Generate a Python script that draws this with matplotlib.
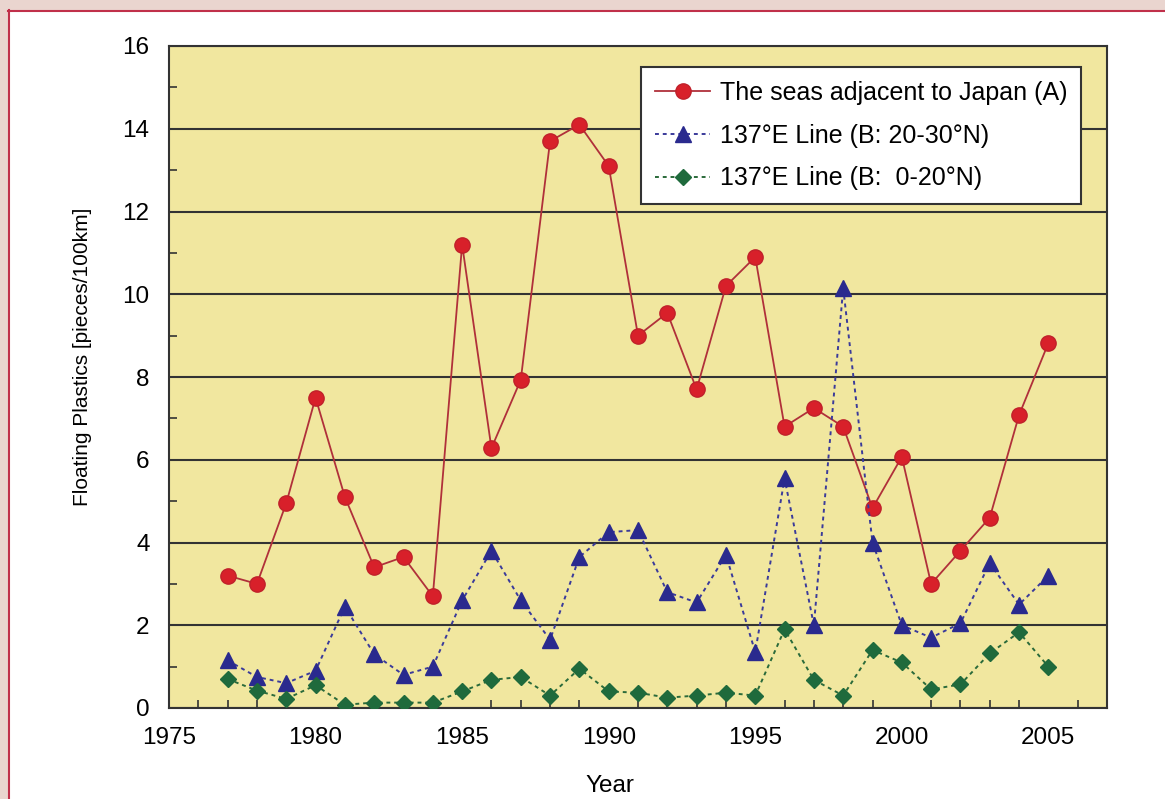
import matplotlib.pyplot as plt
from matplotlib.ticker import MultipleLocator
import matplotlib.patches as mpatches
import matplotlib.lines as mlines

plt.rcParams['font.family'] = ['Liberation Sans', 'DejaVu Sans']

years = list(range(1977, 2006))

# The seas adjacent to Japan (A)
japan = [3.2, 3.0, 4.95, 7.5, 5.1, 3.4, 3.65, 2.7, 11.2, 6.28,
         7.93, 13.7, 14.1, 13.1, 9.0, 9.55, 7.7, 10.2, 10.9, 6.8,
         7.25, 6.8, 4.83, 6.07, 3.0, 3.8, 4.6, 7.08, 8.82]

# 137E line, 20-30N
b_north = [1.15, 0.75, 0.6, 0.9, 2.45, 1.3, 0.8, 1.0, 2.6, 3.8,
           2.6, 1.65, 3.65, 4.25, 4.3, 2.8, 2.55, 3.7, 1.35, 5.55,
           2.0, 10.15, 4.0, 2.0, 1.7, 2.05, 3.5, 2.5, 3.2]

# 137E line, 0-20N
b_south = [0.7, 0.42, 0.22, 0.55, 0.08, 0.13, 0.13, 0.13, 0.4, 0.68,
           0.75, 0.3, 0.95, 0.4, 0.37, 0.25, 0.3, 0.37, 0.3, 1.9,
           0.68, 0.3, 1.4, 1.1, 0.45, 0.57, 1.32, 1.83, 1.0]

labels = ['The seas adjacent to Japan (A)',
          '137\u00b0E Line (B: 20-30\u00b0N)',
          '137\u00b0E Line (B:  0-20\u00b0N)']

fig = plt.figure(figsize=(11.65, 7.99), dpi=100, facecolor='white')

# pink frame at top and left
fig.patches.append(mpatches.Rectangle((0, 1 - 10/799), 1, 10/799, transform=fig.transFigure,
                                      facecolor='#ead5cf', edgecolor='none', zorder=0))
fig.patches.append(mpatches.Rectangle((0, 0), 8/1165, 1, transform=fig.transFigure,
                                      facecolor='#ead5cf', edgecolor='none', zorder=0))
fig.lines.append(mlines.Line2D([8/1165, 1], [1 - 10.5/799, 1 - 10.5/799], transform=fig.transFigure,
                               color='#c0304a', lw=1.5))
fig.lines.append(mlines.Line2D([8.5/1165, 8.5/1165], [0, 1 - 10/799], transform=fig.transFigure,
                               color='#c0304a', lw=1.5))

ax = fig.add_axes([169/1165, 1 - 708/799, (1107 - 169)/1165, (708 - 46)/799])
ax.set_facecolor('#f1e79f')

ax.plot(years, japan, '-', color='#b0303a', lw=1.3, marker='o', ms=11,
        markerfacecolor='#d8202a', markeredgecolor='#c0202a', label=labels[0], zorder=3)
ax.plot(years, b_north, color='#3a3a9a', lw=1.4, ls=(0, (2, 2)), marker='^', ms=11,
        markerfacecolor='#2a2a8e', markeredgecolor='#2a2a8e', label=labels[1], zorder=3)
ax.plot(years, b_south, color='#2a6a3a', lw=1.4, ls=(0, (2, 2)), marker='D', ms=8,
        markerfacecolor='#1f6a3c', markeredgecolor='#1f6a3c', label=labels[2], zorder=3)

ax.set_xlim(1975, 2007)
ax.set_ylim(0, 16)
ax.xaxis.set_major_locator(MultipleLocator(5))
ax.xaxis.set_minor_locator(MultipleLocator(1))
ax.yaxis.set_major_locator(MultipleLocator(2))
ax.yaxis.set_minor_locator(MultipleLocator(1))
ax.tick_params(axis='both', which='major', labelsize=17.5, direction='in', length=0, pad=14)
ax.tick_params(axis='x', which='minor', direction='in', length=6, width=1.2, color='#333333')
ax.tick_params(axis='y', which='minor', direction='in', length=6, width=1.2, color='#333333')
ax.set_xticks([1975, 1980, 1985, 1990, 1995, 2000, 2005])
ax.set_xticks(years + [1976, 2006], minor=True)

ax.grid(axis='y', which='major', color='#333333', lw=1.5)
ax.set_axisbelow(True)
for s in ax.spines.values():
    s.set_color('#333333')
    s.set_linewidth(1.5)

ax.set_xlabel('Year', fontsize=17.5)
ax.set_ylabel('Floating Plastics [pieces/100km]', fontsize=15)
ax.xaxis.set_label_coords(0.47, -0.101)
ax.yaxis.set_label_coords(-0.082, 0.53)

leg = ax.legend(loc='upper right', bbox_to_anchor=(0.986, 0.987), fontsize=18, frameon=True,
                fancybox=False, edgecolor='#333333', framealpha=1, handlelength=2.2,
                handletextpad=0.4, borderpad=0.55, labelspacing=0.75)
leg.get_frame().set_linewidth(1.5)

fig.savefig('out.png', dpi=100, facecolor=fig.get_facecolor())
